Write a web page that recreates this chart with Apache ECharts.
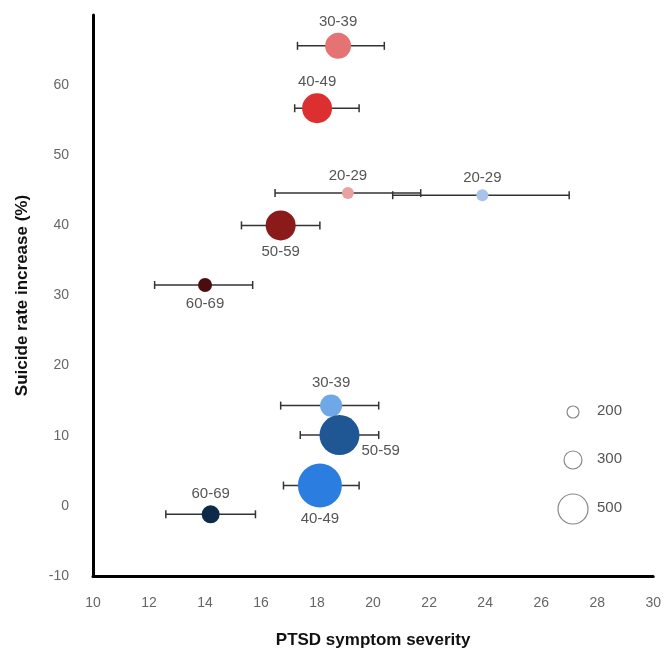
<!DOCTYPE html>
<html><head><meta charset="utf-8">
<script src="https://cdn.jsdelivr.net/npm/echarts@6/dist/echarts.min.js"></script>
<style>html,body{margin:0;background:#fff}#main{width:664px;height:656px}</style>
</head><body><div id="main"></div>
<script>
var labels = ['30-39', '40-49', '20-29', '20-29', '50-59', '60-69', '30-39', '50-59', '40-49', '60-69'];
var severity = [18.75, 18.0, 19.1, 23.9, 16.7, 14.0, 18.5, 18.8, 18.1, 14.2];
var increase = [65.6, 56.7, 44.6, 44.3, 40.0, 31.5, 14.3, 10.1, 2.9, -1.2];
var errLow = [17.3, 17.2, 16.5, 20.7, 15.3, 12.2, 16.7, 17.4, 16.8, 12.6];
var errHigh = [20.4, 19.5, 21.7, 27.0, 18.1, 15.7, 20.2, 20.2, 19.5, 15.8];
var sampleSize = [433, 500, 200, 200, 500, 233, 367, 667, 733, 300];
var colors = ['#e57373', '#dc2f2f', '#e8a0a0', '#a9c4e8', '#8b1a1a', '#4a0d0d', '#6fa8e6', '#1f5795', '#2c7de0', '#0e2a4a'];
var labelPos = ['top', 'top', 'top', 'top', 'bottom', 'bottom', 'top', 'right', 'bottom', 'top'];
var legendSizes = [200, 300, 500];

var chart = echarts.init(document.getElementById('main'));
var pts = severity.map(function (x, i) {
  var pos = labelPos[i];
  return {
    value: [x, increase[i], sampleSize[i]],
    itemStyle: { color: colors[i], opacity: 1 },
    label: {
      show: true, formatter: labels[i], position: pos,
      offset: pos === 'right' ? [-2, 16] : [0, 0],
      distance: 4, color: '#555', fontSize: 15
    }
  };
});
var errData = severity.map(function (x, i) { return [errLow[i], errHigh[i], increase[i]]; });

var legendGraphics = [];
legendSizes.forEach(function (n, i) {
  var cy = [412, 460, 509][i];
  legendGraphics.push({ type: 'circle', shape: { cx: 573, cy: cy, r: n * 0.03 },
    style: { fill: '#fff', stroke: '#888', lineWidth: 1.2 } });
  legendGraphics.push({ type: 'text', x: 597, y: cy - 9,
    style: { text: String(n), fill: '#555', fontSize: 15 } });
});

chart.setOption({
  animation: false,
  grid: { left: 93, right: 4, top: 15, bottom: 80 },
  xAxis: {
    type: 'value', min: 10, max: 30, interval: 2,
    name: 'PTSD symptom severity', nameLocation: 'middle', nameGap: 56,
    nameTextStyle: { fontSize: 17, fontWeight: 'bold', color: '#111' },
    axisLine: { onZero: false, lineStyle: { color: '#000', width: 3 } },
    axisTick: { show: false }, splitLine: { show: false },
    axisLabel: { color: '#666', fontSize: 14, margin: 20 }
  },
  yAxis: {
    type: 'value', min: -10, max: 70, interval: 10,
    name: 'Suicide rate increase (%)', nameLocation: 'middle', nameGap: 62,
    nameTextStyle: { fontSize: 17, fontWeight: 'bold', color: '#111' },
    axisLine: { show: true, onZero: false, lineStyle: { color: '#000', width: 3 } },
    axisTick: { show: false }, splitLine: { show: false },
    axisLabel: { color: '#666', fontSize: 14, margin: 24,
      formatter: function (v) { return v === 70 ? '' : v; } }
  },
  graphic: legendGraphics,
  series: [{
    type: 'custom',
    data: errData,
    renderItem: function (params, api) {
      var a = api.coord([api.value(0), api.value(2)]);
      var b = api.coord([api.value(1), api.value(2)]);
      var st = { stroke: '#333', lineWidth: 1.5 };
      return { type: 'group', children: [
        { type: 'line', shape: { x1: a[0], y1: a[1], x2: b[0], y2: b[1] }, style: st },
        { type: 'line', shape: { x1: a[0], y1: a[1] - 4, x2: a[0], y2: a[1] + 4 }, style: st },
        { type: 'line', shape: { x1: b[0], y1: b[1] - 4, x2: b[0], y2: b[1] + 4 }, style: st }
      ] };
    },
    z: 1
  }, {
    type: 'scatter',
    data: pts,
    symbolSize: function (v) { return v[2] * 0.06; },
    z: 2
  }]
});
</script></body></html>
